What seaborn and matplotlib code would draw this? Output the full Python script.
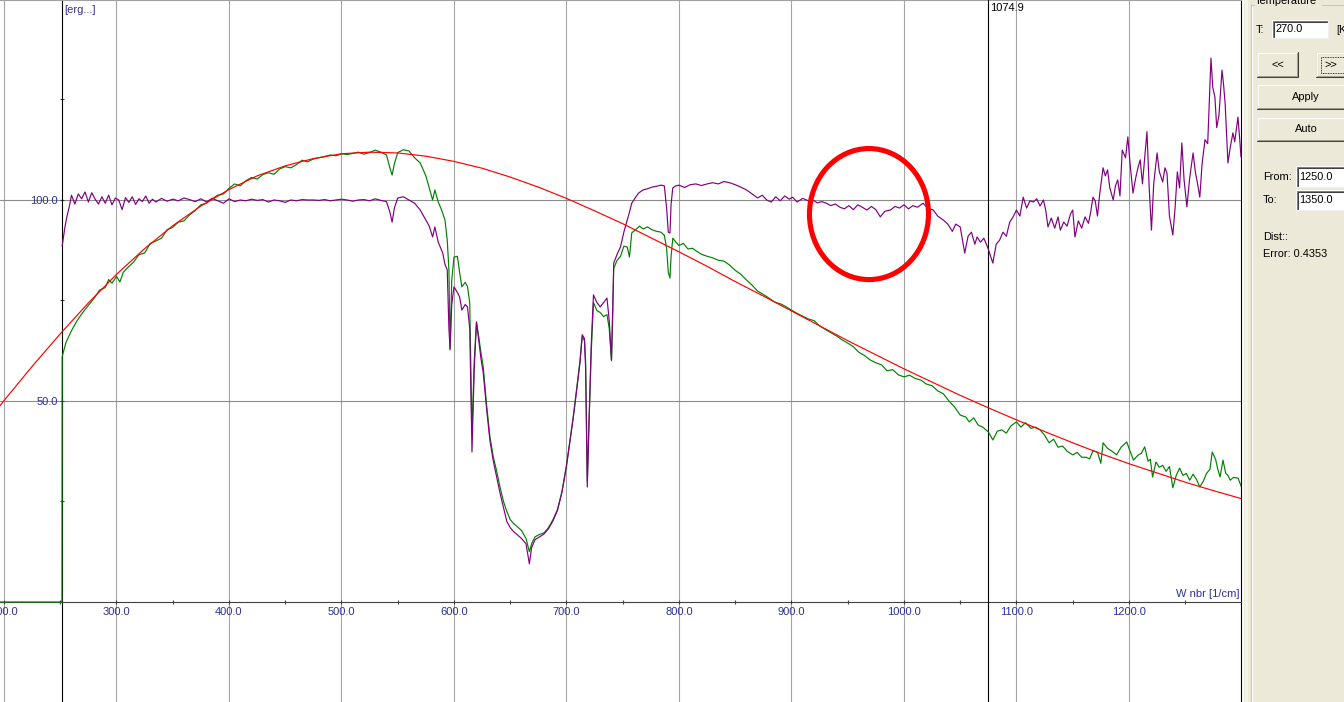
import matplotlib
matplotlib.use("Agg")
import matplotlib.pyplot as plt
import seaborn as sns
import pandas as pd
from matplotlib.patches import Ellipse, Rectangle

# ---------------- data ----------------
red_points = [(195, 48.3), (200, 50.1), (225, 58.6), (250, 66.7), (275, 74.4), (300, 81.5),
              (325, 87.9), (350, 93.6), (375, 98.5), (400, 102.6), (425, 106.0), (450, 108.5),
              (475, 110.3), (500, 111.5), (525, 111.9), (550, 111.7), (575, 110.9), (600, 109.6),
              (625, 107.9), (650, 105.7), (675, 103.2), (700, 100.4), (725, 97.3), (750, 94.1),
              (775, 90.6), (800, 87.1), (825, 83.5), (850, 79.7), (875, 76.1), (900, 72.4),
              (925, 68.7), (950, 65.0), (975, 61.5), (1000, 58.0), (1025, 54.7), (1050, 51.4),
              (1075, 48.3), (1100, 45.3), (1125, 42.4), (1150, 39.6), (1175, 36.9), (1200, 34.4),
              (1225, 32.1), (1250, 29.8), (1275, 27.7), (1300, 25.7)]

green_points = [(195, 0), (251.5, 0), (251.7, 61.0), (255, 64.5), (260, 67.5), (265, 70.0), (270, 72.0),
                (275, 73.8), (280, 75.5), (285, 77.6), (290, 78.2), (293, 80.2), (296, 79.3), (300, 81.0),
                (303, 79.6), (306, 82.0), (310, 83.2), (315, 84.5), (320, 86.4), (325, 86.8), (330, 89.2),
                (335, 89.8), (340, 90.5), (345, 92.6), (350, 93.2), (355, 94.5), (360, 94.8), (365, 96.3),
                (370, 97.4), (375, 98.8), (380, 99.2), (385, 100.3), (390, 101.2), (395, 101.5),
                (400, 102.9), (405, 104.0), (410, 103.5), (415, 104.8), (420, 105.6), (425, 105.2),
                (430, 106.3), (435, 106.8), (440, 106.4), (445, 107.7), (450, 108.3), (455, 108.0),
                (460, 108.8), (465, 109.9), (470, 109.5), (475, 110.2), (480, 110.5), (485, 110.8),
                (490, 111.2), (495, 111.0), (500, 111.5), (505, 111.3), (510, 111.6), (515, 111.9),
                (520, 111.4), (525, 111.8), (530, 112.4), (535, 111.9), (540, 111.2), (543, 108.0),
                (545, 106.2), (547, 109.0), (550, 111.8), (555, 112.5), (560, 112.2), (565, 110.5),
                (570, 109.2), (575, 106.0), (578, 103.0), (581, 100.0), (583, 102.5), (586, 99.5),
                (589, 97.5), (592, 95.0), (594, 90.0), (595.5, 82.6), (596.5, 62.7), (598, 80.0),
                (600, 85.8), (603, 86.0), (605, 82.0), (607, 78.4), (610, 79.5), (612, 78.5), (614, 74.4),
                (616, 42.0), (618, 60.0), (620, 69.5), (622, 66.0), (624, 62.0), (626, 58.5), (629, 49.0),
                (632, 41.0), (635, 36.0), (638, 32.5), (641, 28.5), (644, 25.0), (647, 22.5), (650, 20.5),
                (653, 19.5), (656, 18.8), (660, 17.8), (664, 15.8), (667, 12.5), (669, 14.5), (672, 16.2),
                (676, 16.8), (680, 17.2), (684, 18.5), (688, 20.5), (692, 23.0), (696, 27.5), (700, 34.0),
                (703, 40.0), (706, 46.0), (709, 53.0), (712, 60.0), (714, 66.0), (716, 65.0), (717, 60.0),
                (718.5, 30.0), (720, 45.0), (722, 62.0), (724, 74.5), (727, 72.5), (730, 72.0), (733, 71.0),
                (736, 71.5), (738, 68.0), (740, 60.0), (741, 70.0), (742, 83.0), (745, 85.0), (748, 86.0),
                (751, 88.5), (754, 88.3), (756, 85.8), (758, 91.8), (761, 92.5), (765, 93.5), (768, 92.8),
                (772, 93.3), (776, 92.6), (780, 92.2), (784, 92.0), (787, 91.2), (789, 88.0), (790.5, 82.0),
                (792, 80.6), (793, 86.0), (794.5, 90.5), (797, 89.6), (800, 88.7), (804, 89.2), (808, 87.8),
                (812, 88.0), (816, 87.2), (820, 86.5), (825, 86.0), (830, 85.6), (835, 85.0), (840, 84.8),
                (845, 83.8), (850, 82.5), (855, 81.5), (860, 80.1), (865, 78.8), (870, 77.3), (875, 76.5),
                (880, 75.6), (885, 74.6), (890, 74.2), (895, 73.5), (900, 72.6), (905, 71.8), (910, 71.1),
                (915, 70.4), (920, 70.0), (925, 68.7), (930, 67.8), (935, 67.0), (940, 66.2), (945, 65.2),
                (950, 64.4), (955, 63.5), (960, 62.1), (965, 61.3), (970, 60.2), (975, 59.5), (980, 59.0),
                (985, 57.5), (990, 57.8), (995, 56.5), (1000, 56.0), (1005, 56.4), (1010, 55.6),
                (1015, 55.2), (1020, 54.2), (1025, 53.8), (1030, 52.5), (1035, 51.8), (1040, 50.0),
                (1045, 48.5), (1050, 46.5), (1055, 46.0), (1058, 44.8), (1062, 45.8), (1066, 44.0),
                (1070, 43.5), (1075, 42.3), (1079, 40.3), (1083, 42.5), (1087, 42.8), (1091, 42.0),
                (1095, 43.8), (1100, 44.8), (1104, 43.5), (1108, 44.6), (1113, 43.2), (1117, 43.5),
                (1121, 42.8), (1125, 41.5), (1129, 39.6), (1133, 40.5), (1137, 38.5), (1141, 38.8),
                (1145, 37.5), (1150, 36.6), (1154, 37.2), (1158, 36.0), (1162, 36.0), (1165, 35.6),
                (1168, 37.6), (1172, 37.3), (1175, 34.5), (1177, 39.6), (1181, 38.2), (1185, 37.5),
                (1189, 36.6), (1193, 38.5), (1198, 39.8), (1201, 37.5), (1204, 35.3), (1208, 36.5),
                (1211, 37.0), (1214, 38.6), (1217, 35.0), (1219, 35.5), (1221, 31.1), (1224, 34.8),
                (1227, 33.5), (1230, 34.0), (1233, 32.5), (1236, 33.7), (1239, 28.4), (1242, 31.5),
                (1245, 33.3), (1248, 31.5), (1251, 32.0), (1254, 30.3), (1257, 31.8), (1260, 30.5),
                (1263, 28.6), (1266, 30.0), (1269, 32.0), (1272, 33.0), (1274, 37.3), (1277, 35.5),
                (1279, 33.0), (1281, 31.1), (1283.6, 35.3), (1286, 32.0), (1288, 31.5), (1290, 30.3),
                (1293, 31.0), (1297, 30.8), (1300, 28.6)]

purple_points = [(251.7, 88.5), (254, 93.0), (256, 96.0), (258, 98.3), (260, 101.2), (263, 99.0),
                 (266, 101.5), (269, 100.3), (272, 102.0), (275, 99.5), (278, 101.8), (281, 100.2),
                 (284, 99.0), (287, 100.8), (290, 99.2), (293, 101.2), (296, 98.8), (299, 100.5),
                 (302, 100.0), (305, 97.6), (308, 100.6), (311, 99.4), (314, 100.8), (317, 98.9),
                 (320, 100.3), (323, 99.6), (326, 101.0), (329, 99.2), (332, 100.2), (335, 99.5),
                 (340, 100.4), (345, 99.7), (350, 100.2), (355, 99.8), (360, 100.5), (365, 100.1),
                 (370, 99.6), (375, 100.3), (380, 99.5), (385, 100.4), (390, 99.8), (395, 99.2),
                 (400, 100.3), (405, 99.6), (410, 100.0), (415, 99.8), (420, 100.2), (425, 99.9),
                 (430, 100.1), (435, 99.5), (440, 100.0), (445, 99.8), (450, 99.4), (455, 100.0),
                 (460, 99.8), (465, 100.1), (470, 100.0), (475, 100.0), (480, 99.9), (485, 100.1),
                 (490, 99.8), (495, 100.0), (500, 100.2), (505, 100.0), (510, 99.7), (515, 100.0),
                 (520, 100.1), (525, 99.8), (530, 100.3), (535, 99.9), (540, 99.6), (543, 97.0),
                 (545, 94.5), (547, 98.0), (550, 100.5), (555, 100.8), (560, 100.0), (565, 99.2),
                 (570, 97.5), (575, 95.0), (578, 93.5), (581, 90.8), (583, 93.3), (586, 89.5),
                 (590, 86.8), (592, 84.0), (594, 82.6), (595.5, 68.0), (596.5, 63.0), (598, 74.0),
                 (600, 78.4), (603, 77.0), (605, 75.9), (607, 72.6), (610, 74.0), (612, 73.4),
                 (614, 68.0), (616, 37.3), (618, 58.0), (620, 69.7), (622, 65.0), (624, 60.5),
                 (626, 57.0), (629, 48.0), (632, 40.0), (635, 35.0), (638, 31.0), (641, 27.0),
                 (644, 23.5), (647, 20.0), (650, 18.5), (653, 17.5), (656, 16.8), (660, 15.8),
                 (664, 14.5), (667, 9.5), (669, 13.5), (672, 15.5), (676, 16.2), (680, 16.9),
                 (684, 18.2), (688, 20.2), (692, 22.8), (696, 27.3), (700, 33.8), (703, 39.8),
                 (706, 45.8), (709, 52.5), (712, 59.5), (714, 66.5), (716, 65.5), (717, 58.0),
                 (718.5, 28.6), (720, 44.0), (722, 64.0), (724, 76.4), (727, 74.5), (730, 73.4),
                 (733, 74.5), (736, 75.6), (738, 70.0), (740, 60.2), (741, 72.0), (742, 84.3),
                 (745, 86.5), (748, 88.3), (751, 92.0), (754, 95.0), (756, 97.0), (758, 99.2),
                 (761, 100.5), (764, 101.7), (768, 102.5), (772, 102.8), (776, 103.2), (780, 103.4),
                 (784, 103.7), (787, 103.5), (789, 98.0), (790.5, 92.0), (792, 91.8), (793, 99.0),
                 (794.5, 103.0), (797, 103.5), (800, 103.7), (805, 103.1), (810, 103.8), (815, 104.0),
                 (820, 103.6), (825, 104.0), (830, 104.3), (835, 104.0), (840, 104.6), (845, 104.3),
                 (850, 103.8), (855, 103.2), (860, 102.5), (865, 101.5), (870, 100.5), (874, 101.2),
                 (878, 100.0), (882, 99.5), (886, 100.8), (890, 99.8), (894, 101.0), (898, 100.2),
                 (901, 100.7), (905, 99.5), (910, 100.4), (915, 99.8), (919, 100.0), (923, 99.3),
                 (927, 99.6), (931, 99.2), (935, 98.6), (939, 99.0), (943, 98.2), (947, 97.8),
                 (951, 98.6), (955, 97.6), (959, 98.8), (963, 98.2), (967, 97.5), (971, 98.4),
                 (975, 97.6), (979, 95.8), (983, 97.2), (988, 97.5), (992, 98.4), (996, 98.0),
                 (1000, 98.8), (1004, 97.8), (1008, 98.6), (1012, 98.2), (1017, 99.2), (1021, 98.0),
                 (1026, 97.5), (1030, 96.0), (1035, 95.0), (1039, 94.0), (1043, 92.2), (1046, 94.0),
                 (1050, 93.3), (1054, 86.8), (1057, 91.0), (1060, 92.0), (1063, 89.0), (1065, 90.8),
                 (1068, 89.5), (1071, 90.5), (1074.7, 88.0), (1079, 84.3), (1082, 89.0), (1085, 90.0),
                 (1088, 92.0), (1091, 91.0), (1094, 94.5), (1097, 95.8), (1100, 97.5), (1103, 96.0),
                 (1106, 100.7), (1109, 98.0), (1112, 99.8), (1115, 99.5), (1118, 100.3), (1121, 98.5),
                 (1124, 100.0), (1126, 97.5), (1128, 93.3), (1131, 95.5), (1134, 93.0), (1137, 95.8),
                 (1139, 92.5), (1142, 94.5), (1145, 93.5), (1148, 96.5), (1150, 97.5), (1152, 90.8),
                 (1155, 94.8), (1158, 93.0), (1161, 95.8), (1164, 94.2), (1166, 97.0), (1168, 100.7),
                 (1170, 99.8), (1172, 96.0), (1174, 101.5), (1177, 108.0), (1179, 106.0), (1181, 107.5),
                 (1183, 103.0), (1186, 100.0), (1188, 103.5), (1190, 105.0), (1192, 101.0), (1194, 112.4),
                 (1197, 110.5), (1199, 115.7), (1201, 109.0), (1203.6, 101.7), (1206, 105.5),
                 (1208, 108.0), (1210, 110.0), (1212, 104.0), (1214, 110.5), (1216, 117.0), (1218, 103.0),
                 (1220, 92.5), (1222, 104.0), (1225, 111.7), (1227, 107.0), (1230, 104.5), (1232, 108.0),
                 (1233.8, 106.7), (1236, 96.0), (1239, 91.3), (1241, 98.0), (1243, 107.0), (1245, 103.0),
                 (1247, 114.2), (1249, 105.0), (1251.5, 98.3), (1254, 105.5), (1257, 111.7), (1259, 107.0),
                 (1261, 104.0), (1263, 100.7), (1265, 109.0), (1267.6, 115.0), (1270, 114.0),
                 (1272.9, 135.3), (1274.5, 128.0), (1276.4, 125.6), (1278, 118.0), (1280, 121.0),
                 (1282.7, 132.3), (1284, 129.0), (1285.5, 124.0), (1287, 115.0), (1288, 109.2),
                 (1290, 113.0), (1292.4, 116.7), (1294, 114.5), (1296.9, 120.6), (1298.5, 115.0),
                 (1299.6, 110.7)]

x_ticks = [200, 300, 400, 500, 600, 700, 800, 900, 1000, 1100, 1200]
x_tick_labels = ["200.0", "300.0", "400.0", "500.0", "600.0", "700.0", "800.0", "900.0",
                 "1000.0", "1100.0", "1200.0"]
x_minor_ticks = [250, 350, 450, 550, 650, 750, 850, 950, 1050, 1150, 1250]
y_ticks = [50, 100]
y_tick_labels = ["50.0", "100.0"]
y_minor_ticks = [25, 75, 125]
y_axis_at = 251.6
cursor_wn = 1074.9
cursor_label = "1074.9"
y_unit_label = "[erg...]"
x_unit_label = "W nbr [1/cm]"

# ---------------- figure ----------------
sns.set_style("white")
plt.rcParams["font.family"] = ["Liberation Sans", "DejaVu Sans"]

W, H = 1344, 702
fig = plt.figure(figsize=(W / 100, H / 100), dpi=100, facecolor="white")
ax = fig.add_axes([0, 0, 1241 / W, 1])
ax.set_facecolor("white")

def frame(points, name):
    return pd.DataFrame(points, columns=["wn", name])

navy = "#2F2F95"
lw = 0.85
sns.lineplot(data=frame(green_points, "v"), x="wn", y="v", ax=ax, color="#008000",
             linewidth=lw, sort=False, estimator=None, zorder=3)
sns.lineplot(data=frame(purple_points, "v"), x="wn", y="v", ax=ax, color="#800080",
             linewidth=lw, sort=False, estimator=None, zorder=3.1)
sns.lineplot(data=frame(red_points, "v"), x="wn", y="v", ax=ax, color="#FF0000",
             linewidth=lw, sort=False, estimator=None, zorder=3.2)

ax.set_xlim(196.44, 1299.6)
ax.set_ylim(-24.88, 149.75)
ax.set_xlabel("")
ax.set_ylabel("")

ax.set_xticks(x_ticks)
ax.set_xticklabels(x_tick_labels)
ax.set_xticks(x_minor_ticks, minor=True)
ax.set_yticks(y_ticks)
ax.set_yticklabels(y_tick_labels)
ax.set_yticks(y_minor_ticks, minor=True)

ax.set_axisbelow(True)
ax.grid(True, which="major", axis="x", color="#A4A4A4", linewidth=0.8)
ax.grid(True, which="major", axis="y", color="#8C8C8C", linewidth=0.8)

ax.spines["left"].set_position(("data", y_axis_at))
ax.spines["bottom"].set_position(("data", 0))
ax.spines["left"].set_color("black")
ax.spines["bottom"].set_color("#404040")
ax.spines["top"].set_color("#A0A0A0")
ax.spines["right"].set_color("black")
for s in ax.spines.values():
    s.set_linewidth(0.8)
    s.set_visible(True)

ax.tick_params(axis="x", which="both", direction="inout", length=3.5, width=0.8,
               color="#404040", labelcolor=navy, labelsize=8.0, pad=1.8, bottom=True)
ax.tick_params(axis="y", which="both", direction="inout", length=3.5, width=0.8,
               color="#404040", labelcolor=navy, labelsize=8.0, pad=1.2, left=True)

ax.axvline(cursor_wn, color="black", linewidth=0.8, zorder=2.6)
ax.annotate(cursor_label, xy=(cursor_wn, 1), xycoords=("data", "axes fraction"),
            xytext=(2, -8), textcoords="offset pixels", ha="left", va="center",
            fontsize=8.0, color="black")
ax.annotate(y_unit_label, xy=(y_axis_at, 1), xycoords=("data", "axes fraction"),
            xytext=(2, -10), textcoords="offset pixels", ha="left", va="center",
            fontsize=8.0, color=navy)
ax.annotate(x_unit_label, xy=(1, 0), xycoords=("axes fraction", "data"),
            xytext=(-2, 8), textcoords="offset pixels", ha="right", va="center",
            fontsize=8.0, color=navy)

ax.add_patch(Ellipse((968.9, 96.5), width=105.8, height=32.6, fill=False,
                     edgecolor="#FF0000", linewidth=3.7, zorder=6))

# ---------------- side panel (UI chrome) ----------------
pax = fig.add_axes([0, 0, 1, 1], zorder=10)
pax.set_xlim(0, W)
pax.set_ylim(H, 0)
pax.axis("off")
pax.patch.set_alpha(0)

beige = "#ECE9D8"
pax.add_patch(Rectangle((1244, 0), 100, H, facecolor=beige, edgecolor="none"))
pax.add_patch(Rectangle((1245, 0), 2.5, H, facecolor="#F5F3EA", edgecolor="none"))
# group box etched edge
pax.plot([1250.5, 1250.5], [4, H], color="#C8C5B2", lw=0.75)
pax.plot([1251.5, 1251.5], [5, H], color="white", lw=0.75)
pax.plot([1250.5, 1254], [4.5, 4.5], color="#C8C5B2", lw=0.75)
pax.plot([1322, W], [4.5, 4.5], color="#C8C5B2", lw=0.75)

fs = 7.9
def txt(x, y, s, ha="left"):
    pax.text(x, y, s, ha=ha, va="center", fontsize=fs, color="black")

def sunken(x0, y0, x1, y1, s):
    pax.add_patch(Rectangle((x0, y0), x1 - x0, y1 - y0, facecolor="white", edgecolor="none"))
    pax.plot([x0 + .5, x0 + .5, x1], [y1, y0 + .5, y0 + .5], color="#808080", lw=0.75)
    pax.plot([x0 + 1.5, x0 + 1.5, x1 - 1], [y1 - 1, y0 + 1.5, y0 + 1.5], color="#404040", lw=0.75)
    pax.plot([x0, x1 - .5, x1 - .5], [y1 - .5, y1 - .5, y0], color="#F0F0F0", lw=0.75)
    txt(x0 + 3.5, (y0 + y1) / 2, s)

def button(x0, y0, x1, y1, s, cx, default=False):
    pax.add_patch(Rectangle((x0, y0), x1 - x0, y1 - y0, facecolor=beige, edgecolor="none"))
    pax.plot([x0 + .5, x0 + .5, x1], [y1, y0 + .5, y0 + .5], color="white", lw=0.75)
    pax.plot([x0, x1 - .5, x1 - .5], [y1 - .5, y1 - .5, y0], color="#404040", lw=0.75)
    pax.plot([x0 + 1, x1 - 1.5, x1 - 1.5], [y1 - 1.5, y1 - 1.5, y0 + 1], color="#A09E90", lw=0.75)
    if default:
        pax.add_patch(Rectangle((x0 + .5, y0 + .5), x1 - x0 - 1, y1 - y0 - 1, facecolor="none",
                                edgecolor="black", lw=0.75))
        pax.add_patch(Rectangle((x0 + 4.5, y0 + 4.5), x1 - x0 - 9, y1 - y0 - 9, facecolor="none",
                                edgecolor="black", lw=0.6, linestyle=(0, (1, 1))))
    txt(cx, (y0 + y1) / 2, s, ha="center")

pax.text(1255, 0.5, "Temperature", ha="left", va="center", fontsize=fs, color="black")
txt(1256, 30, "T:")
sunken(1272, 20, 1328, 38, "270.0")
txt(1336, 30, "[K")
button(1257, 52, 1298, 77, "<<", 1277.5)
button(1316, 52, 1352, 77, ">>", 1331, default=True)
button(1257, 84, 1352, 109, "Apply", 1306)
button(1257, 117, 1352, 141, "Auto", 1306)
txt(1263, 176.5, "From:")
sunken(1296, 166, 1352, 187, "1250.0")
txt(1263, 200, "To:")
sunken(1296, 190, 1352, 210, "1350.0")
txt(1263, 237, "Dist::")
txt(1263, 254, "Error: 0.4353")

fig.savefig("out.png", dpi=100, facecolor="white")
